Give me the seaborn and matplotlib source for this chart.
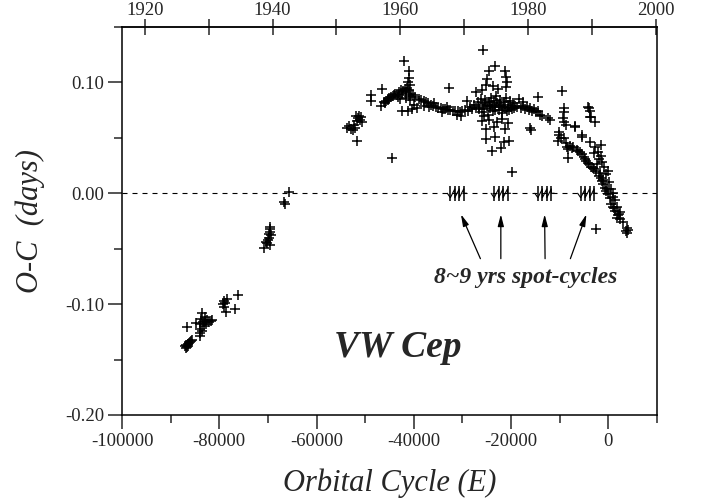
import numpy as np
import pandas as pd
import matplotlib
matplotlib.use("Agg")
import matplotlib.pyplot as plt
from matplotlib.ticker import MultipleLocator, FixedLocator, FormatStrFormatter
import seaborn as sns

# --- O-C data of VW Cep (E in cycles, O-C in days) ---
early_E = [-87100, -86900, -86700, -86500, -86300, -86100, -85900, -85700, -86800, -86400,
           -86700,
           -84700, -84000, -84000, -84000, -83900, -83800, -83600, -83500, -83400, -83200,
           -83000, -82900, -82800, -82500, -82200, -81800, -81500,
           -79300, -79100, -79000, -78800, -78600, -78500, -76800, -76200,
           -70800, -70300, -70100, -69900, -69800, -69700, -69600, -69600, -69500, -69500,
           -69400, -66600, -66400, -65600]
early_oc = [-0.138, -0.137, -0.139, -0.136, -0.135, -0.134, -0.133, -0.132, -0.140, -0.138,
            -0.121,
            -0.117, -0.118, -0.122, -0.126, -0.129, -0.113, -0.108, -0.124, -0.116, -0.120,
            -0.115, -0.112, -0.118, -0.114, -0.116, -0.115, -0.114,
            -0.100, -0.103, -0.097, -0.099, -0.107, -0.095, -0.104, -0.092,
            -0.049, -0.044, -0.045, -0.042, -0.040, -0.037, -0.035, -0.030, -0.032, -0.047,
            -0.038, -0.008, -0.010, 0.001]

mid_E = [-53700, -53400, -53000, -52600, -52300, -52000, -51800, -51700, -51400, -51200,
         -51100, -50800, -50600, -51600, -48800, -48800,
         -46800, -46500, -46200, -45800, -45400, -45000, -44600, -44200, -43800, -43400,
         -43000, -42800, -42600, -42200, -42000, -41800, -41600, -41400, -41200, -41200,
         -41000, -41000, -41000, -40800, -40700, -40600, -40400, -40200, -40000, -39800,
         -42400, -39300, -44500, -46000, -45200, -44000, -43200, -42400, -41700, -40900,
         -39000, -38500, -38000, -37800, -37500, -37000, -36800, -36500, -36000, -35800,
         -35500, -35000, -34500, -34200, -34000, -33500, -33200, -33000, -32800, -32500,
         -32000, -31500, -31200, -31000, -30500, -30200, -30000]
mid_oc = [0.059, 0.061, 0.058, 0.057, 0.062, 0.059, 0.070, 0.065, 0.068, 0.070,
          0.066, 0.069, 0.064, 0.047, 0.089, 0.083,
          0.079, 0.094, 0.082, 0.083, 0.085, 0.086, 0.087, 0.088, 0.090, 0.089,
          0.091, 0.085, 0.093, 0.092, 0.119, 0.094, 0.086, 0.095, 0.100, 0.074,
          0.110, 0.104, 0.093, 0.098, 0.084, 0.090, 0.076, 0.089, 0.080, 0.087,
          0.074, 0.077, 0.032, 0.081, 0.084, 0.089, 0.087, 0.090, 0.091, 0.088,
          0.085, 0.084, 0.083, 0.079, 0.082, 0.081, 0.078, 0.080, 0.079, 0.081,
          0.078, 0.077, 0.077, 0.073, 0.076, 0.076, 0.078, 0.075, 0.095, 0.075,
          0.074, 0.074, 0.071, 0.074, 0.073, 0.070, 0.074]

seventies_E = [-29500, -29100, -28800, -28400, -28000, -27600, -27300, -27200, -26800, -26500,
               -26200, -26000, -25800, -25500, -25300, -25000, -24800, -24600, -24400, -24200,
               -24000, -23800, -23500, -23200, -23000, -22800, -22500, -22300, -22000, -21800,
               -21500, -21200, -21000, -20700, -20500, -20200, -20000, -19700, -19400, -19100,
               -26600, -25400, -24300, -23300, -22400, -21600, -20800, -19900,
               -25800, -23200, -24600, -21300, -21100, -20900, -21100, -25000, -25200, -26000,
               -22600, -23800,
               -25200, -25200, -24000, -22100, -21500, -20500, -23200, -23600, -21200, -19900,
               -26000, -24500, -22800, -21800, -25600, -20600,
               -18800, -18400, -18000, -17600, -17500, -17200, -16800, -16400, -16000, -15600,
               -15200, -14800, -14500, -14400, -14000, -13700, -16000, -15800, -12300, -12000]
seventies_oc = [0.075, 0.083, 0.074, 0.078, 0.076, 0.080, 0.091, 0.077, 0.082, 0.078,
                0.085, 0.073, 0.080, 0.076, 0.084, 0.079, 0.071, 0.082, 0.077, 0.086,
                0.080, 0.074, 0.083, 0.078, 0.088, 0.081, 0.075, 0.084, 0.079, 0.072,
                0.082, 0.077, 0.086, 0.080, 0.075, 0.083, 0.078, 0.081, 0.077, 0.079,
                0.076, 0.081, 0.079, 0.075, 0.080, 0.078, 0.074, 0.076,
                0.129, 0.115, 0.110, 0.110, 0.105, 0.100, 0.096, 0.103, 0.098, 0.093,
                0.094, 0.097,
                0.058, 0.049, 0.038, 0.041, 0.046, 0.047, 0.051, 0.060, 0.058, 0.019,
                0.065, 0.066, 0.064, 0.067, 0.070, 0.063,
                0.078, 0.085, 0.077, 0.079, 0.082, 0.076, 0.078, 0.075, 0.077, 0.074,
                0.076, 0.073, 0.087, 0.074, 0.071, 0.070, 0.059, 0.057, 0.068, 0.066]

late_E = [-9600, -9200, -9200, -9300, -9200, -8800, -10200, -10200, -10400, -9800,
          -9200, -8700, -8500, -8200, -8200, -7500, -7200, -6800, -6800, -5500,
          -5500, -6500, -5800, -5500, -5000, -4500, -4000, -3500, -3000, -2500,
          -2000, -1600, -1000, -700, -400, 0, 400, 600, 900, 1400,
          1700, 2000, 2500, 3000, 3700, 3800, 3900, 4000,
          -4100, -3900, -3700, -3500, -3700, -2700, -3700, -2700, -2200, -2000,
          -1600, -1400, -1200, -800, 0, -400, -1000, -2500, 200, 600,
          1000, 1400, 1800, 2400, 900, -3000, -2400,
          -7900, -6200, -4800, -4200, -3200, -1800, -1300, -200, 1100, 2200]
late_oc = [0.092, 0.077, 0.073, 0.068, 0.064, 0.062, 0.055, 0.053, 0.047, 0.050,
           0.050, 0.045, 0.042, 0.040, 0.032, 0.041, 0.042, 0.060, 0.061, 0.051,
           0.053, 0.039, 0.037, 0.035, 0.033, 0.029, 0.026, 0.024, 0.022, 0.020,
           0.016, 0.014, 0.008, 0.005, 0.002, -0.001, -0.004, -0.010, -0.012, -0.016,
           -0.022, -0.020, -0.023, -0.026, -0.034, -0.031, -0.036, -0.033,
           0.078, 0.077, 0.074, 0.069, 0.069, 0.064, 0.046, 0.042, 0.037, 0.031,
           0.044, 0.034, 0.028, 0.024, 0.020, 0.017, 0.012, -0.032, 0.010, 0.004,
           0.000, -0.006, -0.012, -0.017, -0.003, 0.036, 0.026,
           0.043, 0.038, 0.031, 0.027, 0.023, 0.018, 0.011, 0.004, -0.013, -0.019]

# spot-cycle markers on the zero line and the arrows pointing at them
spot_E = [-31100, -22100, -13100, -4300]
arrow_tail_E = [-26300, -22100, -13000, -7800]
arrow_head_E = [-30300, -22100, -13100, -4500]

# calendar axis on top
year_major = [1920, 1940, 1960, 1980, 2000]
year_minor = [1930, 1950, 1970, 1990]
period = 0.27831
epoch_year = 1992.6

df = pd.DataFrame({
    "E": early_E + mid_E + seventies_E + late_E,
    "oc": early_oc + mid_oc + seventies_oc + late_oc,
})

sns.set_style("ticks")
plt.rcParams["font.family"] = ["Liberation Serif", "DejaVu Serif"]
plt.rcParams["axes.unicode_minus"] = False

fig = plt.figure(figsize=(7.02, 5.03), dpi=100)
ax = fig.add_axes([0.1738, 0.175, 0.762, 0.7713])

sns.scatterplot(data=df, x="E", y="oc", marker="+", color="black", s=50,
                linewidth=1.1, ax=ax, legend=False)

ax.axhline(0, color="black", lw=0.8, ls=(0, (4.5, 4.5)), zorder=1)

# spot-cycle tick groups
for c in spot_E:
    xs = [c + d for d in (-1380, -460, 460, 1380)]
    ax.vlines(xs, -0.007, 0.007, color="black", lw=1.1)
    zig_x = [c - 2000, xs[0], xs[1], xs[1], xs[2], xs[2], xs[3], xs[3], c + 2000]
    zig_y = [0, -0.004, 0.004, -0.004, 0.004, -0.004, 0.004, 0, 0]
    ax.plot(zig_x, zig_y, color="black", lw=0.8)

for t, h in zip(arrow_tail_E, arrow_head_E):
    ax.annotate("", xy=(h, -0.019), xytext=(t, -0.059),
                arrowprops=dict(arrowstyle="-|>,head_length=0.7,head_width=0.18",
                                color="black", lw=0.9, shrinkA=0, shrinkB=0))

ax.text(-17000, -0.076, "8~9 yrs spot-cycles", ha="center", va="center",
        fontsize=17, fontweight="bold", fontstyle="italic")
ax.text(-43400, -0.139, "VW Cep", ha="center", va="center",
        fontsize=27, fontweight="bold", fontstyle="italic")

ax.set_xlim(-100000, 10000)
ax.set_ylim(-0.20, 0.15)
ax.xaxis.set_major_locator(MultipleLocator(20000))
ax.xaxis.set_minor_locator(MultipleLocator(10000))
ax.yaxis.set_major_locator(MultipleLocator(0.10))
ax.yaxis.set_minor_locator(MultipleLocator(0.05))
ax.yaxis.set_major_formatter(FormatStrFormatter("%.2f"))
ax.tick_params(which="major", direction="out", length=10, width=1.1,
               labelsize=13.5, pad=3, top=False, right=False)
ax.tick_params(which="minor", direction="out", length=6, width=1.1,
               top=False, right=False)
for s in ax.spines.values():
    s.set_linewidth(1.1)
    s.set_color("black")

ax.set_xlabel("Orbital Cycle (E)", fontsize=22, fontstyle="italic", labelpad=13)
ax.set_ylabel("O-C  (days)", fontsize=22, fontstyle="italic", labelpad=14)


def cycle_to_year(e):
    return epoch_year + np.asarray(e) * period / 365.25


def year_to_cycle(y):
    return (np.asarray(y) - epoch_year) * 365.25 / period


top = ax.secondary_xaxis("top", functions=(cycle_to_year, year_to_cycle))
top.xaxis.set_major_locator(FixedLocator(year_major))
top.xaxis.set_minor_locator(FixedLocator(year_minor))
top.tick_params(which="both", direction="inout", length=12, width=1.1,
                labelsize=13.5, pad=0)
top.spines["top"].set_linewidth(1.1)

fig.savefig("out.png", dpi=100, facecolor="white")
